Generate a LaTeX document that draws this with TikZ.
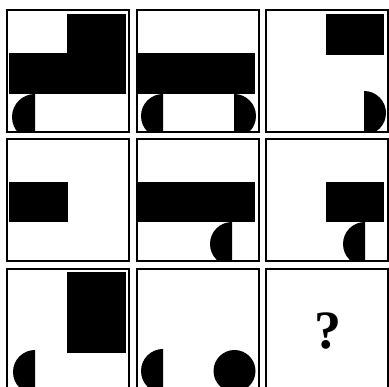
\documentclass[tikz,border=0pt]{standalone}
\usepackage{fontspec}
\usepackage{tikz}
\newfontfamily\askfont{Liberation Serif}

\begin{document}
\begin{tikzpicture}[
    x=1pt, y=-1pt,
    cell/.style={draw=black, line width=2pt, fill=none},
    blk/.style={fill=black},
    qmark/.style={font=\askfont\fontsize{54}{54}\selectfont\bfseries, inner sep=0pt},
]
\useasboundingbox (0,0) rectangle (389,387);

% Row 1
\begin{scope}
  \clip (7,10) rectangle (129,132);
  \fill[blk] (67,14) rectangle (126,53);
  \fill[blk] (9,53) rectangle (126,94);
  \fill[blk] (35,94) arc[start angle=90, end angle=270, radius=23pt] -- cycle;
\end{scope}
\begin{scope}
  \clip (136.5,10) rectangle (258.5,132);
  \fill[blk] (138,53) rectangle (255,94);
  \fill[blk] (163,94) arc[start angle=90, end angle=270, radius=22pt] -- cycle;
  \fill[blk] (234,94) arc[start angle=90, end angle=-90, radius=22pt] -- cycle;
\end{scope}
\begin{scope}
  \clip (266,10) rectangle (388,132);
  \fill[blk] (326,14) rectangle (384,55);
  \fill[blk] (364,91) arc[start angle=90, end angle=-90, radius=22pt] -- cycle;
\end{scope}

% Row 2
\begin{scope}
  \clip (7,139.5) rectangle (129,261.5);
  \fill[blk] (9,182) rectangle (68,222);
\end{scope}
\begin{scope}
  \clip (136.5,139.5) rectangle (258.5,261.5);
  \fill[blk] (138,182) rectangle (255,222);
  \fill[blk] (232,222) arc[start angle=90, end angle=270, radius=22pt] -- cycle;
\end{scope}
\begin{scope}
  \clip (266,139.5) rectangle (388,261.5);
  \fill[blk] (326,182) rectangle (384,222);
  \fill[blk] (365,222) arc[start angle=90, end angle=270, radius=22pt] -- cycle;
\end{scope}

% Row 3
\begin{scope}
  \clip (7,269) rectangle (129,391);
  \fill[blk] (67,272) rectangle (126,353);
  \fill[blk] (35,350) arc[start angle=90, end angle=270, radius=22pt] -- cycle;
\end{scope}
\begin{scope}
  \clip (136.5,269) rectangle (258.5,391);
  \fill[blk] (163,349) arc[start angle=90, end angle=270, radius=22pt] -- cycle;
  \fill[blk] (234.5,371) circle[radius=21pt];
\end{scope}
\node[qmark] (ask) at (328,331) {?};

% Frames
\foreach \px in {7,136.5,266}
  \foreach \py in {10,139.5,269}
    \draw[cell] (\px,\py) rectangle ++(122,122);

\end{tikzpicture}
\end{document}
